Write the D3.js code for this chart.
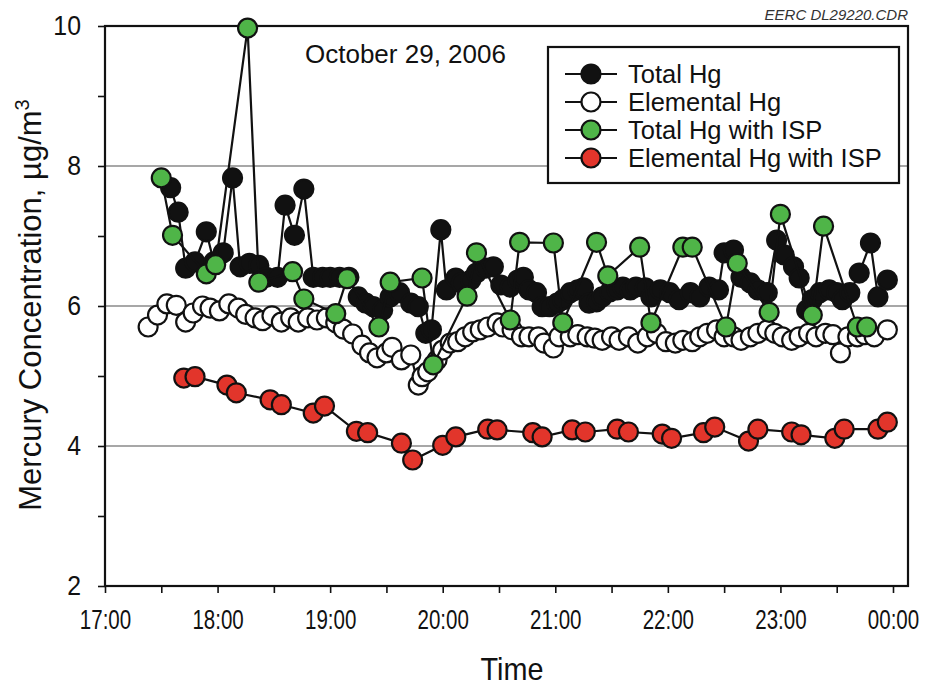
<!DOCTYPE html>
<html><head><meta charset="utf-8">
<script src="https://cdn.jsdelivr.net/npm/d3@7"></script>
<style>body{margin:0;background:#fff}</style>
</head><body>
<svg id="c" width="940" height="687"></svg>
<script>
// minutes after 17:00 on Oct 29, 2006
const totalHgMin = [35,39,43,48,54,58,63,68,72,77,82,86,92,96,101,106,111,116,120,125,130,135,139,143,148,152,157,163,167,171,174,179,182,187,190,195,198,203,207,211,216,220,223,226,230,233,237,241,244,248,252,255,258,262,265,269,273,276,280,283,288,291,296,301,306,312,317,322,327,330,335,339,344,348,353,358,362,367,370,374,377,381,386,390,393,397,402,408,412,417];
const totalHgVal = [7.69,7.34,6.54,6.63,7.06,6.63,6.76,7.83,6.56,6.61,6.58,6.41,6.41,7.44,7.01,7.67,6.41,6.41,6.41,6.41,6.41,6.13,6.04,5.99,5.94,6.13,6.19,6.04,5.99,5.61,5.66,7.09,6.23,6.40,6.33,6.37,6.47,6.54,6.56,6.30,6.27,6.37,6.41,6.23,6.19,5.99,5.99,6.04,6.09,6.19,6.23,6.26,6.04,6.06,6.13,6.20,6.23,6.27,6.23,6.27,6.26,6.13,6.23,6.19,6.09,6.19,6.13,6.27,6.23,6.76,6.80,6.41,6.33,6.23,6.19,6.94,6.73,6.56,6.40,5.94,6.09,6.19,6.23,6.19,6.09,6.19,6.47,6.90,6.13,6.37];
const elemHgMin = [23,28,33,38,43,47,52,56,61,66,71,75,80,84,89,94,99,103,108,113,118,123,127,132,137,141,145,150,153,158,163,167,169,172,177,180,184,188,192,196,200,204,209,212,217,222,226,231,234,239,242,248,252,257,261,265,270,274,279,284,289,294,299,304,308,313,317,321,326,330,335,339,344,348,353,357,361,366,370,375,379,384,388,392,396,401,405,410,417];
const elemHgVal = [5.70,5.87,6.03,6.01,5.77,5.90,6.00,5.97,5.93,6.03,5.97,5.88,5.83,5.79,5.86,5.77,5.83,5.77,5.83,5.80,5.83,5.76,5.67,5.60,5.44,5.33,5.26,5.33,5.41,5.23,5.30,4.87,4.99,5.06,5.23,5.37,5.47,5.49,5.56,5.63,5.66,5.70,5.76,5.70,5.66,5.56,5.56,5.56,5.47,5.40,5.56,5.56,5.59,5.56,5.54,5.51,5.56,5.51,5.56,5.47,5.56,5.61,5.49,5.47,5.51,5.49,5.56,5.61,5.66,5.56,5.56,5.51,5.56,5.61,5.66,5.61,5.56,5.51,5.56,5.61,5.56,5.61,5.59,5.33,5.56,5.56,5.59,5.56,5.66];
const totalIspMin = [30,36,54,59,76,82,100,106,123,129,146,152,169,175,193,198,216,221,239,244,262,268,285,291,308,313,331,337,354,360,377,383,401,406];
const totalIspVal = [7.83,7.01,6.46,6.59,9.97,6.34,6.49,6.10,5.89,6.39,5.70,6.34,6.40,5.16,6.14,6.76,5.80,6.91,6.90,5.76,6.91,6.43,6.84,5.76,6.84,6.84,5.70,6.61,5.91,7.31,5.87,7.14,5.70,5.70];
const elemIspMin = [42,48,65,70,88,94,111,117,134,140,158,164,180,187,204,209,228,233,249,256,273,279,297,302,319,325,343,348,366,371,389,394,412,417];
const elemIspVal = [4.97,4.99,4.87,4.76,4.66,4.59,4.47,4.57,4.21,4.19,4.04,3.80,4.01,4.13,4.24,4.23,4.19,4.13,4.23,4.20,4.24,4.20,4.17,4.11,4.19,4.27,4.07,4.24,4.20,4.16,4.11,4.24,4.24,4.34];
const seriesNames = ["Total Hg","Elemental Hg","Total Hg with ISP","Elemental Hg with ISP"];
const yTicks = [2,4,6,8,10];
const gridValues = [4,6,8];
const dateLabel = "October 29, 2006";
const fileLabel = "EERC DL29220.CDR";

const base = new Date(2006, 9, 29, 17, 0);
const t = m => new Date(2006, 9, 29, 17, m);
const svg = d3.select("#c");
const L = 105, R = 908, T = 26, B = 586;
const x = d3.scaleTime().domain([base, t(428)]).range([L, R]);
const y = d3.scaleLinear().domain([2, 10]).range([B, T]);

// grid
svg.append("g").selectAll("line").data(gridValues).join("line")
  .attr("x1", L).attr("x2", R).attr("y1", d => y(d)).attr("y2", d => y(d))
  .attr("stroke", "#8a8a8a").attr("stroke-width", 1.5);

const font = "'Liberation Sans',Arial,Helvetica,sans-serif";
function condense(sel, k) {
  sel.each(function () {
    const w = this.getComputedTextLength();
    if (w > 0) d3.select(this).attr("textLength", w * k).attr("lengthAdjust", "spacingAndGlyphs");
  });
}
// y axis
const yAxis = d3.axisLeft(y).tickValues(d3.range(2, 10.5, 1)).tickSize(7).tickPadding(17)
  .tickFormat(d => yTicks.includes(d) ? d : "");
const gy = svg.append("g").attr("transform", `translate(${L},0)`).call(yAxis);
gy.select(".domain").remove();
gy.selectAll("line").attr("stroke", "#111").attr("stroke-width", 1.6);
gy.selectAll("text").attr("font-family", font).attr("font-size", 27).attr("fill", "#111").call(condense, 0.92);

// x axis
const xTickVals = d3.range(0, 421, 30).map(t);
const xAxis = d3.axisBottom(x).tickValues(xTickVals).tickSize(7).tickPadding(17)
  .tickFormat(d => d.getMinutes() === 0 ? d3.timeFormat("%H:%M")(d) : "");
const gx = svg.append("g").attr("transform", `translate(0,${B})`).call(xAxis);
gx.select(".domain").remove();
gx.selectAll("line").attr("stroke", "#111").attr("stroke-width", 1.6);
gx.selectAll("text").attr("font-family", font).attr("font-size", 27).attr("fill", "#111").call(condense, 0.76);

// frame
svg.append("rect").attr("x", L).attr("y", T).attr("width", R - L).attr("height", B - T)
  .attr("fill", "none").attr("stroke", "#111").attr("stroke-width", 2.2);

// titles
svg.append("text").attr("x", 512).attr("y", 680).attr("text-anchor", "middle")
  .attr("font-family", font).attr("font-size", 32).attr("fill", "#111").text("Time").call(condense, 0.9);
svg.append("text").attr("transform", "translate(41,305) rotate(-90)").attr("text-anchor", "middle")
  .attr("font-family", font).attr("font-size", 31).attr("fill", "#111")
  .html('Mercury Concentration, µg/m<tspan dy="-12" font-size="20">3</tspan>');
svg.append("text").attr("x", 305).attr("y", 63).attr("font-family", font).attr("font-size", 26)
  .attr("fill", "#111").text(dateLabel);
svg.append("text").attr("x", 908).attr("y", 20).attr("text-anchor", "end").attr("font-family", font)
  .attr("font-style", "italic").attr("font-size", 15).attr("fill", "#333").text(fileLabel);

// series
const series = [
  {mins: elemHgMin, vals: elemHgVal, fill: "#ffffff", name: seriesNames[1]},
  {mins: totalHgMin, vals: totalHgVal, fill: "#111111", name: seriesNames[0]},
  {mins: totalIspMin, vals: totalIspVal, fill: "#4fb548", name: seriesNames[2]},
  {mins: elemIspMin, vals: elemIspVal, fill: "#e2352b", name: seriesNames[3]}
];
const line = d3.line().x(d => x(t(d[0]))).y(d => y(d[1]));
series.forEach(s => {
  const pts = s.mins.map((m, i) => [m, s.vals[i]]);
  const g = svg.append("g");
  g.append("path").datum(pts).attr("d", line).attr("fill", "none").attr("stroke", "#111").attr("stroke-width", 2.2);
  g.selectAll("circle").data(pts).join("circle")
    .attr("cx", d => x(t(d[0]))).attr("cy", d => y(d[1])).attr("r", 9.5)
    .attr("fill", s.fill).attr("stroke", "#111").attr("stroke-width", 2.2);
});

// legend
const lg = svg.append("g");
lg.append("rect").attr("x", 548).attr("y", 47).attr("width", 351).attr("height", 136)
  .attr("fill", "#fff").attr("stroke", "#111").attr("stroke-width", 2.2);
const legendFills = ["#111111", "#ffffff", "#4fb548", "#e2352b"];
seriesNames.forEach((n, i) => {
  const yy = 74 + i * 28;
  lg.append("line").attr("x1", 565).attr("x2", 617).attr("y1", yy).attr("y2", yy).attr("stroke", "#111").attr("stroke-width", 2.2);
  lg.append("circle").attr("cx", 591).attr("cy", yy).attr("r", 9.5).attr("fill", legendFills[i]).attr("stroke", "#111").attr("stroke-width", 2.2);
  lg.append("text").attr("x", 628).attr("y", yy + 9).attr("font-family", font).attr("font-size", 25.5).attr("fill", "#111").text(n);
});
</script>
</body></html>
